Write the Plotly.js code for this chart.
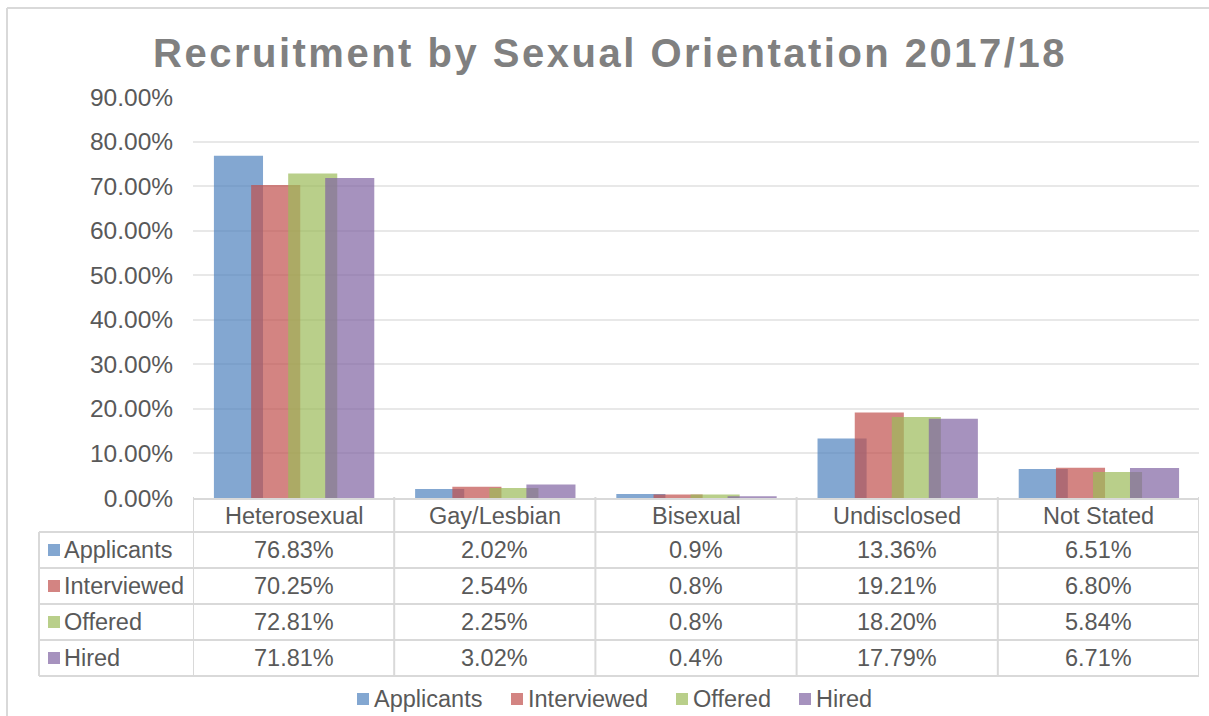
<!DOCTYPE html>
<html>
<head>
<meta charset="utf-8">
<script src="https://cdn.plot.ly/plotly-3.0.1.min.js"></script>
<style>
  html, body { margin: 0; padding: 0; background: #fff; }
  #chart { width: 1209px; height: 716px; }
  .gtitle { letter-spacing: 2.5px; }
</style>
</head>
<body>
<div id="chart"></div>
<script>
// ---- data ----
const categories = ["Heterosexual", "Gay/Lesbian", "Bisexual", "Undisclosed", "Not Stated"];
const seriesNames = ["Applicants", "Interviewed", "Offered", "Hired"];
const applicants  = [0.7683, 0.0202, 0.009, 0.1336, 0.0651];
const interviewed = [0.7025, 0.0254, 0.008, 0.1921, 0.0680];
const offered     = [0.7281, 0.0225, 0.008, 0.1820, 0.0584];
const hired       = [0.7181, 0.0302, 0.004, 0.1779, 0.0671];
const categoryDecimals = [2, 2, 1, 2, 2];
const yTickVals = [0, 0.1, 0.2, 0.3, 0.4, 0.5, 0.6, 0.7, 0.8, 0.9];

// ---- styling / geometry ----
const seriesValues = [applicants, interviewed, offered, hired];
const colors = ["#4F81BD", "#C0504D", "#9BBB59", "#8064A2"];
const offsets = [-0.396, -0.211, -0.027, 0.157];
const barWidth = 0.244;
const FONT = "Liberation Sans, Arial, sans-serif";
const TXT = "#595959";
const GRID = "#e8e8e8";
const TABLE = "#d9d9d9";

const L = 193, R = 1199, T = 97, B = 498;
const px = v => (v - L) / (R - L);
const py = v => (B - v) / (B - T);

function rgba(hex, a) {
  const n = parseInt(hex.slice(1), 16);
  return `rgba(${(n >> 16) & 255},${(n >> 8) & 255},${n & 255},${a})`;
}

const traces = seriesNames.map((name, i) => ({
  type: "bar",
  name: name,
  x: categories,
  y: seriesValues[i],
  width: barWidth,
  offset: offsets[i],
  marker: { color: rgba(colors[i], 0.7), line: { width: 0 } },
  hovertemplate: "%{x}<br>" + name + ": %{y:.2%}<extra></extra>"
}));

const shapes = [];
const annotations = [];

// outer chart border
shapes.push({ type: "line", xref: "paper", yref: "paper", x0: px(7), x1: px(1209), y0: py(8), y1: py(8), line: { color: TABLE, width: 2 } });
shapes.push({ type: "line", xref: "paper", yref: "paper", x0: px(7), x1: px(7), y0: py(8), y1: py(716), line: { color: TABLE, width: 2 } });

// data table
const rowLines = [532, 568, 604, 640, 676];
const rowCenters = [550, 586, 622, 658];
rowLines.forEach(y => shapes.push({ type: "line", xref: "paper", yref: "paper", x0: px(39), x1: px(R), y0: py(y), y1: py(y), line: { color: TABLE, width: 2 } }));
shapes.push({ type: "line", xref: "paper", yref: "paper", x0: px(39), x1: px(39), y0: py(532), y1: py(676), line: { color: TABLE, width: 2 } });
for (let c = 0; c <= categories.length; c++) {
  shapes.push({ type: "line", xref: "x", yref: "paper", x0: c - 0.5, x1: c - 0.5, y0: py(497), y1: py(676), line: { color: TABLE, width: 2 } });
}
// header row (category names)
categories.forEach((cat, c) => {
  annotations.push({ xref: "x", yref: "paper", x: c, y: py(515.5), xanchor: "center", yanchor: "middle", text: cat, showarrow: false, font: { family: FONT, size: 23.5, color: TXT } });
});
seriesNames.forEach((name, r) => {
  const yc = rowCenters[r];
  shapes.push({ type: "rect", xref: "paper", yref: "paper", x0: px(48), x1: px(60), y0: py(yc - 6), y1: py(yc + 6), fillcolor: rgba(colors[r], 0.7), line: { width: 0 } });
  annotations.push({ xref: "paper", yref: "paper", x: px(62), y: py(yc), xanchor: "left", yanchor: "middle", text: name, showarrow: false, font: { family: FONT, size: 23.5, color: TXT } });
  categories.forEach((cat, c) => {
    annotations.push({ xref: "x", yref: "paper", x: c, y: py(yc), xanchor: "center", yanchor: "middle", text: (seriesValues[r][c] * 100).toFixed(categoryDecimals[c]) + "%", showarrow: false, font: { family: FONT, size: 23.5, color: TXT } });
  });
});

// bottom legend
const legendSquareX = [357, 511, 676, 799];
seriesNames.forEach((name, i) => {
  const x0 = legendSquareX[i];
  shapes.push({ type: "rect", xref: "paper", yref: "paper", x0: px(x0), x1: px(x0 + 12), y0: py(693), y1: py(705), fillcolor: rgba(colors[i], 0.7), line: { width: 0 } });
  annotations.push({ xref: "paper", yref: "paper", x: px(x0 + 15), y: py(699), xanchor: "left", yanchor: "middle", text: name, showarrow: false, font: { family: FONT, size: 23.5, color: TXT } });
});

const layout = {
  width: 1209, height: 716,
  margin: { l: L, r: 1209 - R, t: T, b: 716 - B },
  paper_bgcolor: "#ffffff", plot_bgcolor: "#ffffff",
  font: { family: FONT, color: TXT },
  title: {
    text: "<b>Recruitment by Sexual Orientation 2017/18</b>",
    font: { family: FONT, size: 40, color: "#808080" },
    x: 610 / 1209, xref: "container", xanchor: "center",
    y: 1 - 53 / 716, yref: "container", yanchor: "middle"
  },
  barmode: "overlay",
  showlegend: false,
  xaxis: {
    type: "category",
    range: [-0.5, 4.5],
    showgrid: false,
    showticklabels: false,
    showline: true, linecolor: TABLE, linewidth: 2,
    ticks: "",
    fixedrange: true
  },
  yaxis: {
    range: [0, 0.9],
    tickvals: yTickVals,
    tickformat: ".2%",
    showgrid: true, gridcolor: GRID, gridwidth: 1.5,
    zeroline: false, showline: false,
    ticks: "outside", ticklen: 14, tickcolor: "rgba(0,0,0,0)",
    tickfont: { family: FONT, size: 24.5, color: TXT },
    fixedrange: true
  },
  shapes: shapes,
  annotations: annotations
};

Plotly.newPlot("chart", traces, layout, { displayModeBar: false, responsive: false });
</script>
</body>
</html>
